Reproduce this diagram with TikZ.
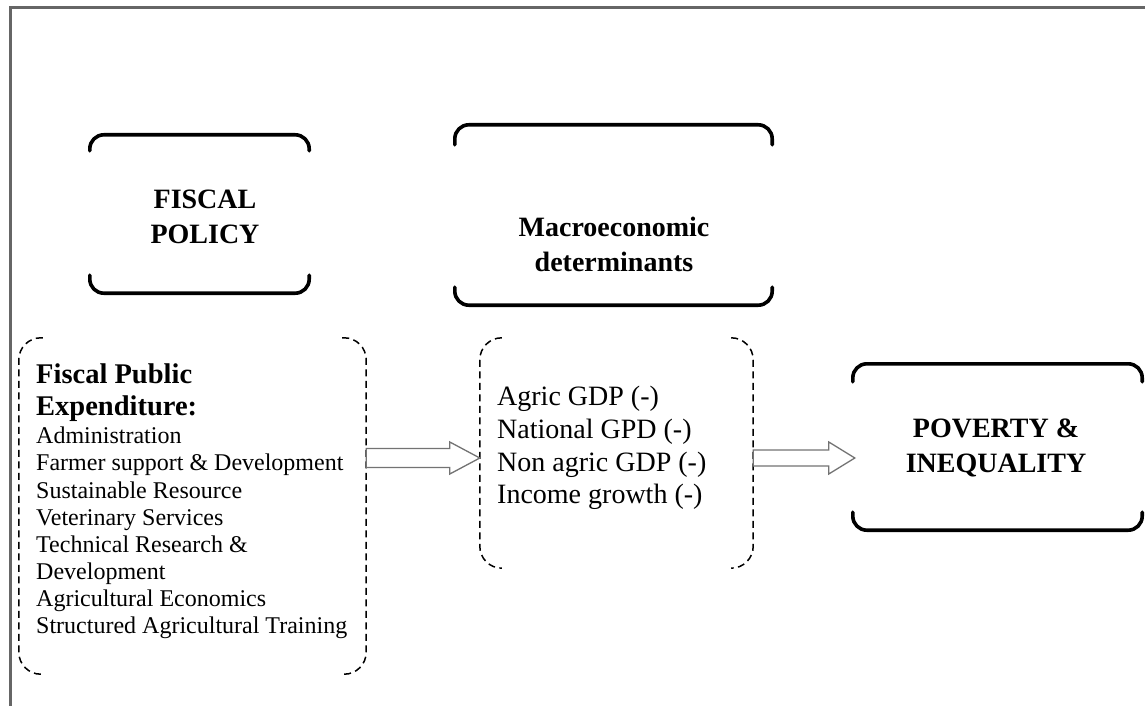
\documentclass[tikz,border=0pt]{standalone}
\usepackage{fontspec}
\setmainfont{Liberation Serif}
\usetikzlibrary{calc}
\begin{document}
\begin{tikzpicture}[x=1pt,y=-1pt,
  solidbr/.style={line width=3.6pt, line cap=round, rounded corners=14pt},
  dashbr/.style={line width=1.5pt, dash pattern=on 7pt off 4.5pt, rounded corners=22pt},
  area/.style={inner sep=0pt, minimum width=#1},
  title/.style={font=\fontsize{28}{35}\selectfont\bfseries, align=center, inner sep=0pt},
  blockarr/.style={draw=black!55, line width=1.3pt, fill=white, line join=miter},
  frame/.style={draw=black!60, line width=3pt}]
\useasboundingbox (0,0) rectangle (1145,706);
% outer frame
\draw[frame] (10,706) -- (10,8) -- (1145,8);

% invisible box areas
\node[area=219pt, minimum height=158pt] (fp) at (199.5,214) {};
\node[area=317pt, minimum height=180pt] (mac) at (613.5,215) {};
\node[area=289pt, minimum height=166pt] (pv) at (997.5,447) {};
\node[area=347pt, minimum height=336pt] (fe) at (192.5,506) {};
\node[area=273pt, minimum height=230pt] (me) at (616.5,453) {};

% solid brackets
\draw[solidbr] ($(fp.north west)+(0,16)$) |- (fp.north) -| ($(fp.north east)+(0,16)$);
\draw[solidbr] ($(fp.south west)+(0,-18)$) |- (fp.south) -| ($(fp.south east)+(0,-18)$);
\draw[solidbr] ($(mac.north west)+(0,20)$) |- (mac.north) -| ($(mac.north east)+(0,20)$);
\draw[solidbr] ($(mac.south west)+(0,-18)$) |- (mac.south) -| ($(mac.south east)+(0,-18)$);
\draw[solidbr] ($(pv.north west)+(0,18)$) |- (pv.north) -| ($(pv.north east)+(0,18)$);
\draw[solidbr] ($(pv.south west)+(0,-18)$) |- (pv.south) -| ($(pv.south east)+(0,-18)$);

% dashed brackets
\draw[dashbr] ($(fe.north west)+(24,0)$) -| (fe.south west) -- ($(fe.south west)+(24,0)$);
\draw[dashbr] ($(fe.north east)+(-24,0)$) -| (fe.south east) -- ($(fe.south east)+(-24,0)$);
\draw[dashbr] ($(me.north west)+(22,0)$) -| (me.south west) -- ($(me.south west)+(22,0)$);
\draw[dashbr] ($(me.north east)+(-22,0)$) -| (me.south east) -- ($(me.south east)+(-22,0)$);

% titles
\node[title] (fpt) at (205,217) {FISCAL\\POLICY};
\node[title] (mact) at (614,244) {Macroeconomic\\determinants};
\node[title] (pvt) at (996,448) {POVERTY \&\\INEQUALITY};

% left box text
\node[anchor=north west, inner sep=0pt, align=left, font=\fontsize{28.5}{32}\selectfont\bfseries] (feh) at (36,364) {Fiscal Public\\Expenditure:};
\node[anchor=north west, inner sep=0pt, align=left, font=\fontsize{24}{27.1}\selectfont] (fel) at (36,427) {Administration\\Farmer support \& Development\\Sustainable Resource\\Veterinary Services\\Technical Research \&\\Development\\Agricultural Economics\\Structured Agricultural Training};

% middle box text
\node[anchor=north west, inner sep=0pt, align=left, font=\fontsize{28}{32.7}\selectfont] (mel) at (497,386) {Agric GDP (-)\\National GPD (-)\\Non agric GDP (-)\\Income growth (-)};

% arrows
\coordinate (a1s) at (fe.east |- 0,458);
\coordinate (a1e) at (me.west |- 0,458);
\coordinate (a2s) at (me.east |- 0,458);
\coordinate (a2e) at ($(pv.west |- 0,458)+(2,0)$);
\draw[blockarr] let \p1=(a1s), \p2=(a1e) in (\x1,\y1+9.5pt) -- (\x2-30pt,\y1+9.5pt) -- (\x2-30pt,\y1+16pt) -- (\x2,\y1) -- (\x2-30pt,\y1-16pt) -- (\x2-30pt,\y1-9.5pt) -- (\x1,\y1-9.5pt) -- cycle;
\draw[blockarr] let \p1=(a2s), \p2=(a2e) in (\x1,\y1+8pt) -- (\x2-26pt,\y1+8pt) -- (\x2-26pt,\y1+16pt) -- (\x2,\y1) -- (\x2-26pt,\y1-16pt) -- (\x2-26pt,\y1-8pt) -- (\x1,\y1-8pt) -- cycle;
\end{tikzpicture}
\end{document}
